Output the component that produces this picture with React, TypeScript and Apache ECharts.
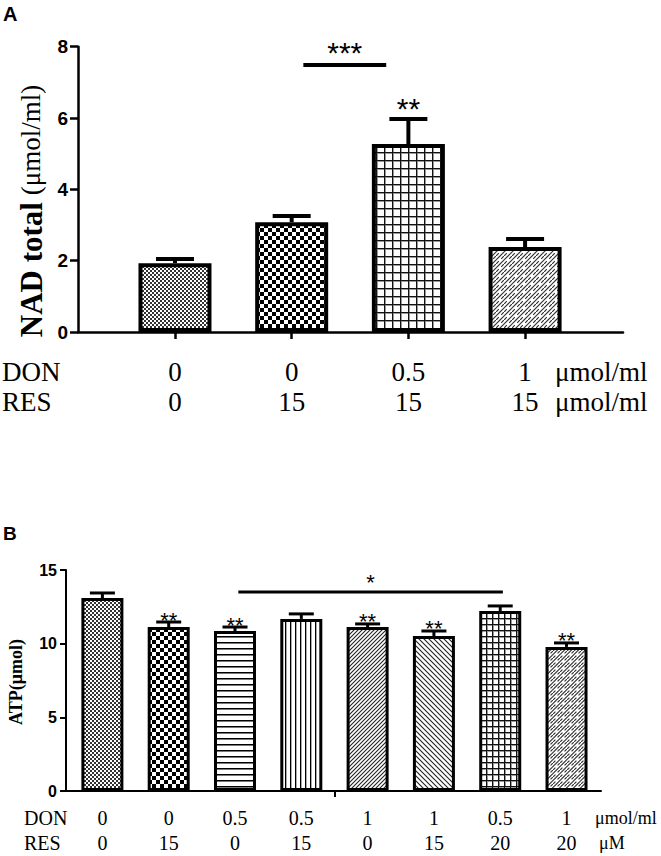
import React, { useEffect, useRef } from "react";
import * as echarts from "echarts";

// ---------- Data: panel A (NAD total) ----------
const nadDON = ["0", "0", "0.5", "1"];
const nadRES = ["0", "15", "15", "15"];
const nadMean = [1.93, 3.08, 5.27, 2.38];
const nadErr = [0.12, 0.17, 0.7, 0.23];
const nadStars = ["", "", "**", ""];
const nadYTicks = [0, 2, 4, 6, 8];
const nadSigFrom = [1.1];
const nadSigTo = [1.81];
const nadSigY = [7.49];
const nadSigLabel = ["***"];

// ---------- Data: panel B (ATP) ----------
const atpDON = ["0", "0", "0.5", "0.5", "1", "1", "0.5", "1"];
const atpRES = ["0", "15", "0", "15", "0", "15", "20", "20"];
const atpMean = [13.1, 11.13, 10.86, 11.68, 11.13, 10.52, 12.22, 9.78];
const atpErr = [0.34, 0.34, 0.27, 0.34, 0.21, 0.34, 0.34, 0.27];
const atpStars = ["", "**", "**", "", "**", "**", "", "**"];
const atpYTicks = [0, 5, 10, 15];
const atpSigFrom = [2.05];
const atpSigTo = [6.04];
const atpSigY = [13.5];
const atpSigLabel = ["*"];
const atpMidTick = [3.5];

const serif = "Liberation Serif, Times New Roman, serif";
const sans = "Liberation Sans, Arial, sans-serif";

function tile(w: number, h: number, draw: (g: CanvasRenderingContext2D, w: number, h: number) => void) {
  const c = document.createElement("canvas");
  c.width = w;
  c.height = h;
  const g = c.getContext("2d") as CanvasRenderingContext2D;
  g.fillStyle = "#fff";
  g.fillRect(0, 0, w, h);
  draw(g, w, h);
  return { image: c, repeat: "repeat", imageWidth: w, imageHeight: h } as any;
}

function makePatterns() {
  const fineChecker = tile(4, 4, (g) => {
    g.fillStyle = "#333";
    g.fillRect(0, 0, 2, 2);
    g.fillRect(2, 2, 2, 2);
  });
  const checker = (n: number) =>
    tile(n, n, (g) => {
      g.fillStyle = "#000";
      g.fillRect(0, 0, n / 2, n / 2);
      g.fillRect(n / 2, n / 2, n / 2, n / 2);
    });
  const grid = (n: number) =>
    tile(n, n, (g) => {
      g.fillStyle = "#999";
      g.fillRect(0, 1, n, 1);
      g.fillRect(1, 0, 1, n);
      g.fillStyle = "#111";
      g.fillRect(0, 0, n, 1);
      g.fillRect(0, 0, 1, n);
    });
  const hLines = tile(6, 6, (g) => {
    g.fillStyle = "#777";
    g.fillRect(0, 1, 6, 1);
    g.fillStyle = "#000";
    g.fillRect(0, 0, 6, 1);
  });
  const vLines = tile(5, 5, (g) => {
    g.fillStyle = "#aaa";
    g.fillRect(1, 0, 1, 5);
    g.fillStyle = "#000";
    g.fillRect(0, 0, 1, 5);
  });
  const diag = (n: number, dir: number) =>
    tile(n, n, (g) => {
      g.strokeStyle = "#222";
      g.lineWidth = 1.1;
      g.beginPath();
      for (const o of [-n, 0, n]) {
        if (dir > 0) {
          g.moveTo(o - 1, n + 1);
          g.lineTo(o + n + 1, -1);
        } else {
          g.moveTo(o - 1, -1);
          g.lineTo(o + n + 1, n + 1);
        }
      }
      g.stroke();
    });
  const dashDiag = (n: number) =>
    tile(n, n, (g) => {
      g.strokeStyle = "#333";
      g.lineWidth = 1.2;
      g.beginPath();
      g.moveTo(-1, n + 1);
      g.lineTo(n * 0.35, n * 0.65);
      g.moveTo(n * 0.65, n * 0.35);
      g.lineTo(n + 1, -1);
      g.moveTo(-1, n / 2 + 1);
      g.lineTo(n / 2 + 1, -1);
      g.moveTo(n / 2 - 1, n + 1);
      g.lineTo(n + 1, n / 2 - 1);
      g.stroke();
    });
  return {
    a: [fineChecker, checker(8), grid(8), dashDiag(8)],
    b: [fineChecker, checker(8), hLines, vLines, diag(4, 1), diag(5, -1), grid(6), dashDiag(7)],
  };
}

function errorRender(stars: string[], capHalf: number, lw: number, starSize: number, starGap: number) {
  return (params: any, api: any) => {
    const x = api.value(0);
    const y = api.value(1);
    const e = api.value(2);
    const base = api.coord([x, y]);
    const top = api.coord([x, y + e]);
    const children: any[] = [
      {
        type: "line",
        shape: { x1: base[0], y1: base[1], x2: top[0], y2: top[1] },
        style: { stroke: "#000", lineWidth: lw },
      },
      {
        type: "line",
        shape: { x1: top[0] - capHalf, y1: top[1], x2: top[0] + capHalf, y2: top[1] },
        style: { stroke: "#000", lineWidth: lw },
      },
    ];
    const s = stars[params.dataIndex];
    if (s) {
      children.push({
        type: "text",
        x: top[0],
        y: top[1] - starGap,
        style: {
          text: s,
          fill: "#000",
          fontFamily: sans,
          fontSize: starSize,
          align: "center",
          verticalAlign: "middle",
        },
      });
    }
    return { type: "group", children };
  };
}

function sigRender(labels: string[], lw: number, starSize: number, starGap: number) {
  return (params: any, api: any) => {
    const p1 = api.coord([api.value(0), api.value(2)]);
    const p2 = api.coord([api.value(1), api.value(2)]);
    return {
      type: "group",
      children: [
        {
          type: "line",
          shape: { x1: p1[0], y1: p1[1], x2: p2[0], y2: p2[1] },
          style: { stroke: "#000", lineWidth: lw },
        },
        {
          type: "text",
          x: (p1[0] + p2[0]) / 2,
          y: p1[1] - starGap,
          style: {
            text: labels[params.dataIndex],
            fill: "#000",
            fontFamily: sans,
            fontSize: starSize,
            align: "center",
            verticalAlign: "middle",
          },
        },
      ],
    };
  };
}

export default function App() {
  const ref = useRef<HTMLDivElement>(null);
  useEffect(() => {
    if (!ref.current) return;
    const chart = echarts.init(ref.current, undefined, { renderer: "svg" });
    const pats = makePatterns();
    const nadIdx = nadMean.map((_, i) => i);
    const atpIdx = atpMean.map((_, i) => i);

    const option: any = {
      animation: false,
      backgroundColor: "#fff",
      grid: [
        { left: 78, top: 46.7, width: 545, height: 285.3 },
        { left: 66, top: 570, width: 535, height: 221 },
      ],
      xAxis: [
        {
          type: "value",
          gridIndex: 0,
          min: -0.831,
          max: 3.839,
          splitLine: { show: false },
          axisLine: { show: true, onZero: false, lineStyle: { color: "#000", width: 2.5 } },
          axisTick: { show: true, customValues: nadIdx, length: 7, lineStyle: { color: "#000", width: 2.5 } },
          axisLabel: {
            customValues: nadIdx,
            formatter: (v: number) => {
              const i = Math.round(v);
              return nadDON[i] + "\n" + nadRES[i];
            },
            fontFamily: serif,
            fontSize: 27,
            lineHeight: 30,
            color: "#000",
            margin: 25,
          },
        },
        {
          type: "value",
          gridIndex: 1,
          min: -0.549,
          max: 7.52,
          splitLine: { show: false },
          axisLine: { show: true, onZero: false, lineStyle: { color: "#000", width: 2 } },
          axisTick: { show: true, customValues: atpMidTick, length: 6, lineStyle: { color: "#000", width: 2 } },
          axisLabel: {
            customValues: atpIdx,
            formatter: (v: number) => {
              const i = Math.round(v);
              return atpDON[i] + "\n" + atpRES[i];
            },
            fontFamily: serif,
            fontSize: 20,
            lineHeight: 25,
            color: "#000",
            margin: 14.5,
          },
        },
      ],
      yAxis: [
        {
          type: "value",
          gridIndex: 0,
          min: nadYTicks[0],
          max: nadYTicks[nadYTicks.length - 1],
          interval: nadYTicks[1] - nadYTicks[0],
          splitLine: { show: false },
          axisLine: { show: true, onZero: false, lineStyle: { color: "#000", width: 2.5 } },
          axisTick: { show: true, length: 8, lineStyle: { color: "#000", width: 2.5 } },
          axisLabel: { fontFamily: sans, fontWeight: "bold", fontSize: 19, color: "#000", margin: 10 },
        },
        {
          type: "value",
          gridIndex: 1,
          min: atpYTicks[0],
          max: atpYTicks[atpYTicks.length - 1],
          interval: atpYTicks[1] - atpYTicks[0],
          splitLine: { show: false },
          axisLine: { show: true, onZero: false, lineStyle: { color: "#000", width: 2 } },
          axisTick: { show: true, length: 6, lineStyle: { color: "#000", width: 2 } },
          axisLabel: { fontFamily: sans, fontWeight: "bold", fontSize: 16, color: "#000", margin: 9 },
        },
      ],
      series: [
        {
          type: "bar",
          xAxisIndex: 0,
          yAxisIndex: 0,
          barWidth: 73,
          silent: true,
          itemStyle: { borderColor: "#000", borderWidth: 4 },
          data: nadMean.map((v, i) => ({ value: [i, v], itemStyle: { color: pats.a[i] } })),
        },
        {
          type: "custom",
          xAxisIndex: 0,
          yAxisIndex: 0,
          silent: true,
          z: 3,
          renderItem: errorRender(nadStars, 19, 4, 30, 11),
          data: nadMean.map((v, i) => [i, v, nadErr[i]]),
        },
        {
          type: "custom",
          xAxisIndex: 0,
          yAxisIndex: 0,
          silent: true,
          z: 3,
          encode: { x: [0, 1], y: 2 },
          renderItem: sigRender(nadSigLabel, 4, 30, 12),
          data: nadSigFrom.map((f, i) => [f, nadSigTo[i], nadSigY[i]]),
        },
        {
          type: "bar",
          xAxisIndex: 1,
          yAxisIndex: 1,
          barWidth: 42,
          silent: true,
          itemStyle: { borderColor: "#000", borderWidth: 3 },
          data: atpMean.map((v, i) => ({ value: [i, v], itemStyle: { color: pats.b[i] } })),
        },
        {
          type: "custom",
          xAxisIndex: 1,
          yAxisIndex: 1,
          silent: true,
          z: 3,
          renderItem: errorRender(atpStars, 12.5, 3, 22, 2),
          data: atpMean.map((v, i) => [i, v, atpErr[i]]),
        },
        {
          type: "custom",
          xAxisIndex: 1,
          yAxisIndex: 1,
          silent: true,
          z: 3,
          encode: { x: [0, 1], y: 2 },
          renderItem: sigRender(atpSigLabel, 3, 22, 9.5),
          data: atpSigFrom.map((f, i) => [f, atpSigTo[i], atpSigY[i]]),
        },
      ],
      graphic: [
        { type: "text", x: 3, y: 14, style: { text: "A", fontFamily: sans, fontWeight: "bold", fontSize: 20, fill: "#000", verticalAlign: "middle" } },
        { type: "text", x: 3, y: 533, style: { text: "B", fontFamily: sans, fontWeight: "bold", fontSize: 19, fill: "#000", verticalAlign: "middle" } },
        {
          type: "text",
          x: 31,
          y: 211,
          rotation: Math.PI / 2,
          style: {
            text: "{b|NAD total}{r| (μmol/ml)}",
            align: "center",
            verticalAlign: "middle",
            rich: {
              b: { fontFamily: serif, fontWeight: "bold", fontSize: 31, fill: "#000" },
              r: { fontFamily: serif, fontSize: 27, fill: "#000" },
            },
          },
        },
        {
          type: "text",
          x: 16,
          y: 682,
          rotation: Math.PI / 2,
          style: { text: "ATP(μmol)", fontFamily: serif, fontWeight: "bold", fontSize: 18, fill: "#000", align: "center", verticalAlign: "middle" },
        },
        { type: "text", x: 2, y: 372, style: { text: "DON", fontFamily: serif, fontSize: 27, fill: "#000", verticalAlign: "middle" } },
        { type: "text", x: 2, y: 402, style: { text: "RES", fontFamily: serif, fontSize: 27, fill: "#000", verticalAlign: "middle" } },
        { type: "text", x: 555, y: 372, style: { text: "μmol/ml", fontFamily: serif, fontSize: 27, fill: "#000", verticalAlign: "middle" } },
        { type: "text", x: 555, y: 402, style: { text: "μmol/ml", fontFamily: serif, fontSize: 27, fill: "#000", verticalAlign: "middle" } },
        { type: "text", x: 24, y: 818, style: { text: "DON", fontFamily: serif, fontSize: 20, fill: "#000", verticalAlign: "middle" } },
        { type: "text", x: 24, y: 843, style: { text: "RES", fontFamily: serif, fontSize: 20, fill: "#000", verticalAlign: "middle" } },
        { type: "text", x: 595, y: 818, style: { text: "μmol/ml", fontFamily: serif, fontSize: 18, fill: "#000", verticalAlign: "middle" } },
        { type: "text", x: 599, y: 843, style: { text: "μM", fontFamily: serif, fontSize: 18, fill: "#000", verticalAlign: "middle" } },
      ],
    };
    chart.setOption(option);
    return () => chart.dispose();
  }, []);
  return <div ref={ref} style={{ position: "fixed", left: 0, top: 0, width: 661, height: 856 }} />;
}
